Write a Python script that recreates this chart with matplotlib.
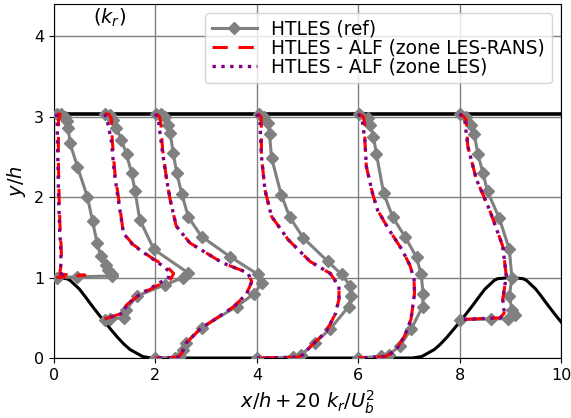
import matplotlib
matplotlib.use("Agg")
import matplotlib.pyplot as plt
import numpy as np

# Stations x/h where profiles are extracted
stations = [0.05, 1.0, 2.0, 4.0, 6.0, 8.0]
y_top = 3.036

# Hill contour
hill_x = [0.0, 0.25, 0.32, 0.5, 0.6, 0.75, 0.875, 1.0, 1.125, 1.25, 1.375, 1.5, 1.75, 1.93,
          7.07, 7.25, 7.5, 7.625, 7.75, 7.875, 8.0, 8.125, 8.25, 8.4, 8.5, 8.68, 8.75, 9.0,
          9.25, 9.32, 9.5, 9.6, 9.75, 9.875, 10.0]
hill_y = [1.0, 0.986, 0.964, 0.857, 0.776, 0.648, 0.546, 0.448, 0.352, 0.259, 0.175, 0.105, 0.018, 0.0,
          0.0, 0.018, 0.105, 0.175, 0.259, 0.352, 0.448, 0.546, 0.648, 0.776, 0.857, 0.964, 0.986, 1.0,
          0.986, 0.964, 0.857, 0.776, 0.648, 0.546, 0.448]

# HTLES (ref) : y/h et k_r/U_b^2
y_ref_0 = [3.036, 3.03, 3.0, 2.94, 2.86, 2.67, 2.38, 2.0, 1.70, 1.43, 1.27, 1.16, 1.10, 1.04, 1.02, 1.008, 1.0]
k_ref_0 = [0.0005, 0.0045, 0.0085, 0.010, 0.0115, 0.0133, 0.0205, 0.0305, 0.0355, 0.040, 0.0435, 0.0485, 0.051, 0.0545, 0.055, 0.020, 0.0]
y_ref_1 = [3.036, 3.02, 2.96, 2.86, 2.71, 2.53, 2.30, 2.07, 1.72, 1.35, 1.06, 1.0, 0.91, 0.77, 0.60, 0.50, 0.485, 0.478]
k_ref_1 = [0.0, 0.005, 0.0085, 0.0115, 0.0165, 0.0215, 0.0265, 0.030, 0.0345, 0.0485, 0.082, 0.0775, 0.0595, 0.0315, 0.021, 0.019, 0.005, 0.0]
y_ref_2 = [3.036, 3.03, 3.0, 2.90, 2.80, 2.55, 2.30, 2.04, 1.75, 1.51, 1.26, 1.04, 0.93, 0.80, 0.64, 0.375, 0.19, 0.10, 0.03, 0.005, 0.0]
k_ref_2 = [0.001, 0.0055, 0.0095, 0.0125, 0.0145, 0.0175, 0.021, 0.026, 0.0325, 0.0455, 0.0735, 0.101, 0.105, 0.0975, 0.080, 0.0455, 0.0305, 0.0275, 0.024, 0.019, 0.0]
y_ref_4 = [3.036, 3.0, 2.92, 2.78, 2.49, 2.03, 1.75, 1.49, 1.20, 1.04, 0.90, 0.77, 0.64, 0.355, 0.19, 0.04, 0.01, 0.0]
k_ref_4 = [0.002, 0.007, 0.011, 0.0125, 0.0145, 0.024, 0.0325, 0.046, 0.070, 0.0835, 0.092, 0.093, 0.0905, 0.072, 0.057, 0.044, 0.0355, 0.0]
y_ref_6 = [3.036, 2.98, 2.90, 2.75, 2.53, 2.05, 1.75, 1.50, 1.25, 1.04, 0.80, 0.64, 0.355, 0.15, 0.04, 0.02, 0.0]
k_ref_6 = [0.001, 0.010, 0.012, 0.015, 0.018, 0.025, 0.034, 0.0465, 0.0575, 0.062, 0.064, 0.0635, 0.052, 0.041, 0.030, 0.0225, 0.0]
y_ref_8 = [3.036, 3.0, 2.90, 2.78, 2.53, 2.30, 2.07, 1.74, 1.35, 1.00, 0.77, 0.60, 0.54, 0.49, 0.485, 0.478]
k_ref_8 = [0.0, 0.0065, 0.0115, 0.0145, 0.018, 0.023, 0.0275, 0.039, 0.049, 0.0515, 0.049, 0.0515, 0.055, 0.0475, 0.031, 0.0]

# HTLES - ALF (zone LES-RANS)
y_lr_0 = [3.036, 3.03, 2.95, 2.5, 2.0, 1.6, 1.39, 1.19, 1.08, 1.04, 1.03, 1.01, 1.0]
k_lr_0 = [0.0005, 0.0035, 0.002, 0.00175, 0.0025, 0.0035, 0.0045, 0.005, 0.0035, 0.0035, 0.028, 0.0125, 0.0]
y_lr_1 = [3.036, 3.03, 2.98, 2.7, 2.3, 2.0, 1.55, 1.41, 1.26, 1.12, 1.05, 0.98, 0.79, 0.66, 0.56, 0.52, 0.485]
k_lr_1 = [0.0, 0.004, 0.0065, 0.0075, 0.010, 0.0135, 0.0185, 0.028, 0.0445, 0.0625, 0.068, 0.065, 0.0345, 0.0215, 0.0185, 0.0085, 0.0]
y_lr_2 = [3.036, 3.0, 2.9, 2.6, 2.22, 1.97, 1.64, 1.43, 1.18, 1.06, 0.95, 0.80, 0.64, 0.36, 0.19, 0.06, 0.01, 0.0]
k_lr_2 = [0.001, 0.004, 0.0055, 0.007, 0.011, 0.0145, 0.0205, 0.034, 0.0665, 0.091, 0.095, 0.090, 0.0775, 0.044, 0.0305, 0.026, 0.0225, 0.0]
y_lr_4 = [3.036, 3.0, 2.9, 2.51, 2.09, 1.76, 1.47, 1.20, 1.05, 0.89, 0.73, 0.55, 0.33, 0.15, 0.04, 0.01, 0.0]
k_lr_4 = [0.001, 0.004, 0.0045, 0.0045, 0.008, 0.0145, 0.031, 0.0525, 0.0725, 0.081, 0.081, 0.0775, 0.0685, 0.0535, 0.0455, 0.040, 0.0]
y_lr_6 = [3.036, 3.0, 2.9, 2.71, 2.38, 2.05, 1.84, 1.60, 1.35, 1.15, 0.98, 0.80, 0.48, 0.27, 0.105, 0.02, 0.0]
k_lr_6 = [0.0, 0.005, 0.0065, 0.0065, 0.008, 0.014, 0.019, 0.030, 0.043, 0.051, 0.055, 0.0555, 0.052, 0.0455, 0.0375, 0.0275, 0.0]
y_lr_8 = [3.036, 3.0, 2.96, 2.63, 2.22, 1.84, 1.39, 1.02, 0.73, 0.56, 0.50, 0.478]
k_lr_8 = [0.0, 0.004, 0.0065, 0.008, 0.0165, 0.0295, 0.0425, 0.046, 0.0425, 0.044, 0.040, 0.0]

# HTLES - ALF (zone LES)
y_les_0 = [3.036, 2.95, 2.5, 2.0, 1.6, 1.39, 1.19, 1.08, 1.03, 1.0]
k_les_0 = [0.0, 0.0005, 0.00125, 0.002, 0.003, 0.004, 0.0045, 0.0035, 0.0055, 0.0]
y_les_1 = [3.036, 2.95, 2.7, 2.3, 2.0, 1.55, 1.41, 1.26, 1.12, 1.07, 1.0, 0.79, 0.66, 0.56, 0.52, 0.485]
k_les_1 = [0.0, 0.0025, 0.0065, 0.0095, 0.013, 0.0185, 0.0275, 0.044, 0.060, 0.0635, 0.063, 0.0345, 0.0215, 0.0185, 0.0085, 0.0]
y_les_2 = [3.036, 2.95, 2.6, 2.22, 1.97, 1.64, 1.43, 1.18, 1.06, 0.95, 0.80, 0.64, 0.36, 0.19, 0.06, 0.01, 0.0]
k_les_2 = [0.0, 0.003, 0.0065, 0.011, 0.0145, 0.0205, 0.034, 0.0665, 0.091, 0.095, 0.090, 0.0775, 0.044, 0.0305, 0.026, 0.0225, 0.0]
y_les_4 = [3.036, 2.95, 2.51, 2.09, 1.76, 1.47, 1.20, 1.05, 0.89, 0.73, 0.55, 0.33, 0.15, 0.04, 0.01, 0.0]
k_les_4 = [0.0, 0.003, 0.0045, 0.008, 0.0145, 0.031, 0.0525, 0.0725, 0.081, 0.081, 0.0775, 0.0685, 0.0535, 0.0455, 0.040, 0.0]
y_les_6 = [3.036, 2.95, 2.71, 2.38, 2.05, 1.84, 1.60, 1.35, 1.15, 0.98, 0.80, 0.48, 0.27, 0.105, 0.02, 0.0]
k_les_6 = [0.0, 0.004, 0.0065, 0.008, 0.014, 0.019, 0.030, 0.043, 0.051, 0.055, 0.0555, 0.052, 0.0455, 0.0375, 0.0275, 0.0]
y_les_8 = [3.036, 2.96, 2.63, 2.22, 1.84, 1.39, 1.02, 0.73, 0.56, 0.50, 0.478]
k_les_8 = [0.0, 0.005, 0.008, 0.0165, 0.0295, 0.0425, 0.046, 0.0425, 0.044, 0.040, 0.0]

ref = [(y_ref_0, k_ref_0), (y_ref_1, k_ref_1), (y_ref_2, k_ref_2),
       (y_ref_4, k_ref_4), (y_ref_6, k_ref_6), (y_ref_8, k_ref_8)]
les_rans = [(y_lr_0, k_lr_0), (y_lr_1, k_lr_1), (y_lr_2, k_lr_2),
            (y_lr_4, k_lr_4), (y_lr_6, k_lr_6), (y_lr_8, k_lr_8)]
les = [(y_les_0, k_les_0), (y_les_1, k_les_1), (y_les_2, k_les_2),
       (y_les_4, k_les_4), (y_les_6, k_les_6), (y_les_8, k_les_8)]

scale = 20

fig = plt.figure(figsize=(5.71, 4.18), dpi=100)
ax = fig.add_axes([0.0946, 0.1435, 0.888, 0.847])

# Paroi : colline + paroi haute
ax.plot(hill_x, hill_y, color="black", lw=2.2, zorder=3)
ax.axhline(y_top, color="black", lw=2.6, zorder=3)

for i, x0 in enumerate(stations):
    y, k = ref[i]
    ax.plot(x0 + scale*np.array(k), y, "-D", color="gray", lw=2.2, ms=6.5,
            label="HTLES (ref)" if i == 0 else None, zorder=4)
    y, k = les_rans[i]
    ax.plot(x0 + scale*np.array(k), y, color="red", lw=2.2, dashes=(5, 3.5),
            label="HTLES - ALF (zone LES-RANS)" if i == 0 else None, zorder=5)
    y, k = les[i]
    ax.plot(x0 + scale*np.array(k), y, ":", color="purple", lw=2.4,
            label="HTLES - ALF (zone LES)" if i == 0 else None, zorder=6)

ax.text(1.1, 4.23, r"$(k_r)$", fontsize=14, ha="center", va="center")

ax.set_xlim(0, 10)
ax.set_ylim(0, 4.4)
ax.set_xticks([0, 2, 4, 6, 8, 10])
ax.set_yticks([0, 1, 2, 3, 4])
ax.tick_params(labelsize=11.5)
ax.set_xlabel(r"$x/h + 20\ k_r/U_b^2$", fontsize=14)
ax.set_ylabel(r"$y/h$", fontsize=14)
ax.grid(color="gray", lw=1)
ax.set_axisbelow(True)
ax.legend(loc="upper right", fontsize=13.4, labelspacing=0.0, handlelength=2.4,
          borderpad=0.35)

fig.savefig("out.png", dpi=100)
